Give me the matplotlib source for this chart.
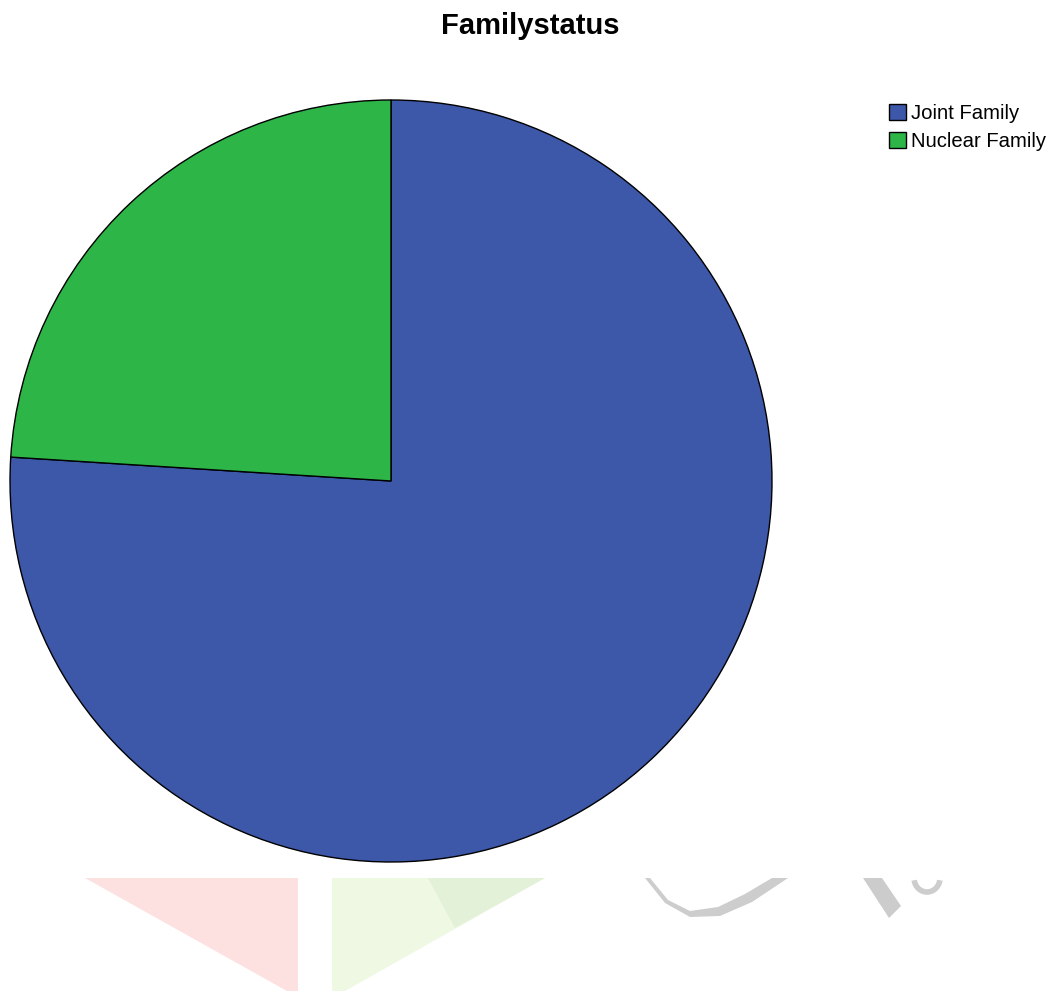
import matplotlib.pyplot as plt
from matplotlib.patches import Polygon, Arc

# datos del grafico
categorias = ["Joint Family", "Nuclear Family"]
porcentajes = [76.0, 24.0]
colores = ["#3d57a9", "#2eb548"]

fig = plt.figure(figsize=(10.51, 9.91), dpi=100)
plt.rcParams['font.family'] = ['Liberation Sans', 'DejaVu Sans']

# marca de agua tenue en la parte inferior
fondo = fig.add_axes([0, 0, 1, 1])
fondo.set_xlim(0, 1051)
fondo.set_ylim(991, 0)
fondo.axis('off')
fondo.add_patch(Polygon([(85, 878), (298, 878), (298, 991), (287, 991)], closed=True,
                        facecolor='#fde0e0', edgecolor='none'))
fondo.add_patch(Polygon([(332, 878), (545, 878), (345, 991), (332, 991)], closed=True,
                        facecolor='#eef8e3', edgecolor='none'))
fondo.add_patch(Polygon([(428, 878), (545, 878), (455, 928)], closed=True,
                        facecolor='#e3f1d9', edgecolor='none'))
fondo.add_patch(Polygon([(645, 878), (665, 903), (690, 917), (720, 916), (752, 902), (788, 878),
                         (772, 878), (745, 894), (718, 907), (690, 911), (668, 900), (650, 878)],
                        closed=True, facecolor='#cdcdcd', edgecolor='none'))
fondo.add_patch(Polygon([(863, 878), (882, 878), (901, 906), (889, 918)], closed=True,
                        facecolor='#cccccc', edgecolor='none'))
fondo.add_patch(Arc((927, 878), 26, 28, theta1=10, theta2=170, color='#cdcdcd', lw=4))

# grafico de torta
cx, cy, r = 391, 481, 381
ax = fig.add_axes([(cx - r) / 1051, (991 - cy - r) / 991, 2 * r / 1051, 2 * r / 991])
ax.pie(porcentajes, colors=colores, startangle=90, counterclock=False,
       wedgeprops=dict(edgecolor='black', linewidth=1.0))
ax.set_xlim(-1.0, 1.0)
ax.set_ylim(-1.0, 1.0)
ax.set_aspect('equal')

fig.text(530 / 1051, 1 - 26 / 991, "Familystatus", ha='center', va='center',
         fontsize=21, fontweight='bold')

handles = [plt.Rectangle((0, 0), 1, 1, facecolor=c, edgecolor='black', linewidth=1.0) for c in colores]
fig.legend(handles, categorias, loc='upper left', bbox_to_anchor=(889 / 1051, 1 - 104 / 991),
           frameon=False, fontsize=14.6, handlelength=0.85, handleheight=0.85,
           handletextpad=0.25, labelspacing=0.42, borderpad=0, borderaxespad=0)

plt.savefig("out.png", dpi=100)
